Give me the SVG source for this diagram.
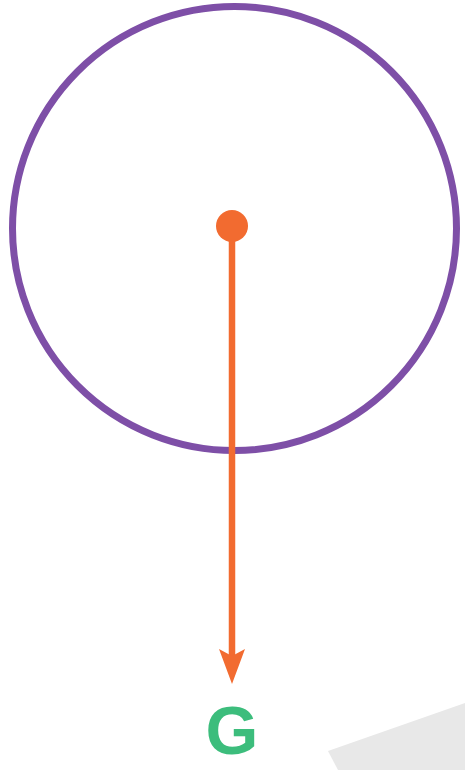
<svg xmlns="http://www.w3.org/2000/svg" width="465" height="770" viewBox="0 0 465 770">
<style>
.ring{fill:none;stroke:#7e4fa7;stroke-width:7}
.orange{fill:#f26b30}
.conn{stroke:#f26b30;stroke-width:6.5;fill:none}
.lbl{font-family:"Liberation Sans",Arial,sans-serif;font-weight:bold;font-size:68px;fill:#3cbd7c}
</style>
<polygon points="328,751 465,703 465,770 338,770" fill="#e8e8e8"/>
<g id="circle"><circle class="ring" cx="234.5" cy="228.5" r="222"/></g>
<g id="center"><circle class="orange" cx="232" cy="226" r="16"/></g>
<g id="connectors">
<line class="conn" x1="232" y1="226" x2="232" y2="658"/>
<path class="orange" d="M219,649 L232,656 L245,649 L232,684 Z"/>
</g>
<g id="label"><text class="lbl" x="232" y="754" text-anchor="middle">G</text></g>
</svg>
